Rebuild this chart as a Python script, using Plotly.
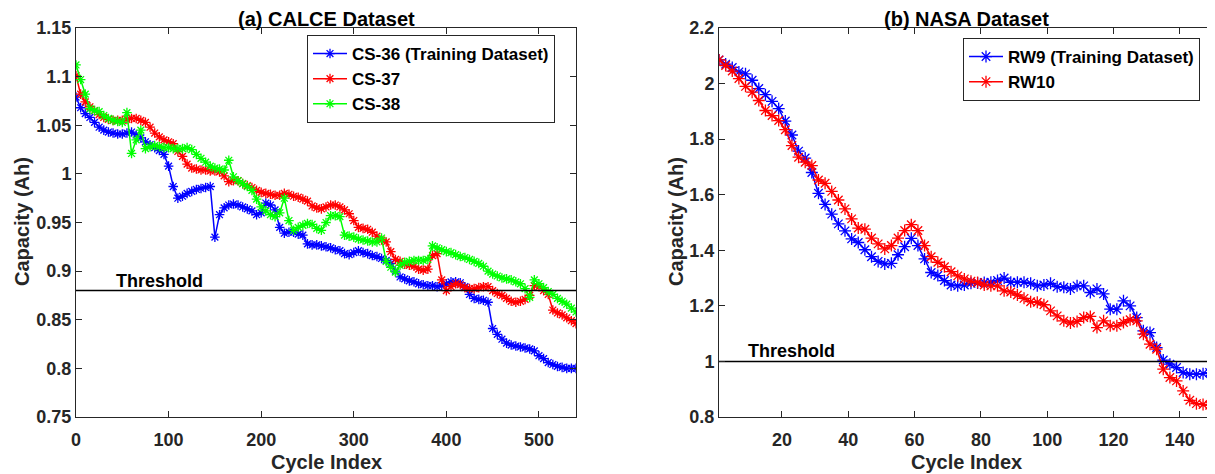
import plotly.graph_objects as go

# ---------------- data ----------------
calce_cycles = list(range(0, 541, 5))
cs36 = [1.079, 1.068, 1.062, 1.058, 1.053, 1.048, 1.045, 1.043, 1.042, 1.041,
        1.041, 1.042, 1.043, 1.040, 1.037, 1.033, 1.030, 1.027, 1.024, 1.020,
        1.008, 0.987, 0.975, 0.977, 0.980, 0.982, 0.984, 0.985, 0.986, 0.987,
        0.935, 0.958, 0.965, 0.968, 0.969, 0.968, 0.966, 0.964, 0.962, 0.958,
        0.960, 0.970, 0.968, 0.963, 0.945, 0.939, 0.940, 0.940, 0.938, 0.937,
        0.928, 0.927, 0.927, 0.926, 0.925, 0.924, 0.922, 0.921, 0.918, 0.917,
        0.919, 0.921, 0.919, 0.918, 0.916, 0.915, 0.913, 0.911, 0.908, 0.900,
        0.894, 0.892, 0.890, 0.889, 0.887, 0.886, 0.885, 0.885, 0.884, 0.885,
        0.887, 0.889, 0.889, 0.888, 0.884, 0.876, 0.872, 0.871, 0.870, 0.868,
        0.841, 0.835, 0.830, 0.826, 0.824, 0.823, 0.822, 0.821, 0.820, 0.818,
        0.813, 0.810, 0.806, 0.804, 0.802, 0.801, 0.800, 0.800, 0.800]
cs37 = [1.101, 1.082, 1.074, 1.069, 1.065, 1.061, 1.058, 1.056, 1.055, 1.055,
        1.055, 1.056, 1.057, 1.057, 1.055, 1.053, 1.048, 1.042, 1.038, 1.035,
        1.033, 1.031, 1.023, 1.018, 1.010, 1.006, 1.005, 1.004, 1.004, 1.003,
        1.003, 1.002, 0.998, 0.992, 0.993, 0.993, 0.990, 0.988, 0.986, 0.983,
        0.981, 0.980, 0.979, 0.978, 0.978, 0.980, 0.979, 0.977, 0.976, 0.974,
        0.972, 0.967, 0.965, 0.964, 0.966, 0.968, 0.968, 0.966, 0.963, 0.959,
        0.952, 0.945, 0.944, 0.943, 0.940, 0.936, 0.932, 0.930, 0.920, 0.912,
        0.910, 0.907, 0.906, 0.905, 0.902, 0.901, 0.902, 0.916, 0.918, 0.891,
        0.880, 0.884, 0.887, 0.886, 0.883, 0.882, 0.882, 0.883, 0.884, 0.884,
        0.880, 0.877, 0.875, 0.872, 0.869, 0.868, 0.869, 0.871, 0.875, 0.885,
        0.884, 0.880, 0.876, 0.860, 0.857, 0.855, 0.852, 0.849, 0.846]
cs38 = [1.112, 1.097, 1.082, 1.067, 1.065, 1.064, 1.060, 1.057, 1.055, 1.054,
        1.053, 1.063, 1.021, 1.035, 1.045, 1.026, 1.028, 1.029, 1.028, 1.027,
        1.027, 1.026, 1.026, 1.026, 1.027, 1.025, 1.020, 1.016, 1.012, 1.008,
        1.006, 1.005, 1.004, 1.014, 0.997, 0.993, 0.990, 0.987, 0.983, 0.974,
        0.966, 0.962, 0.958, 0.956, 0.960, 0.975, 0.952, 0.942, 0.945, 0.947,
        0.949, 0.948, 0.944, 0.942, 0.950, 0.957, 0.957, 0.956, 0.937, 0.936,
        0.935, 0.933, 0.932, 0.931, 0.930, 0.930, 0.934, 0.910, 0.904, 0.899,
        0.906, 0.909, 0.910, 0.911, 0.911, 0.911, 0.912, 0.926, 0.924, 0.922,
        0.920, 0.919, 0.917, 0.915, 0.914, 0.912, 0.910, 0.908, 0.905, 0.900,
        0.897, 0.895, 0.893, 0.892, 0.891, 0.889, 0.887, 0.882, 0.873, 0.891,
        0.887, 0.883, 0.879, 0.876, 0.872, 0.869, 0.866, 0.862, 0.858]

nasa_cycles = list(range(1, 150, 2)) + [150]
rw9 = [2.085, 2.070, 2.058, 2.042, 2.035, 2.012, 1.982, 1.960, 1.936, 1.910,
       1.865, 1.815, 1.757, 1.732, 1.680, 1.605, 1.565, 1.530, 1.495, 1.470,
       1.441, 1.428, 1.402, 1.377, 1.360, 1.351, 1.353, 1.384, 1.413, 1.443,
       1.417, 1.369, 1.320, 1.309, 1.291, 1.275, 1.272, 1.275, 1.281, 1.282,
       1.284, 1.285, 1.291, 1.300, 1.285, 1.285, 1.285, 1.281, 1.272, 1.275,
       1.281, 1.269, 1.267, 1.261, 1.272, 1.272, 1.248, 1.261, 1.243, 1.188,
       1.188, 1.218, 1.200, 1.158, 1.110, 1.104, 1.050, 1.005, 0.990, 0.978,
       0.960, 0.954, 0.954, 0.956, 0.960, 0.936]
rw10 = [2.085, 2.065, 2.045, 2.018, 1.990, 1.969, 1.939, 1.903, 1.885, 1.867,
        1.834, 1.777, 1.735, 1.717, 1.705, 1.653, 1.641, 1.612, 1.581, 1.549,
        1.513, 1.480, 1.476, 1.444, 1.423, 1.405, 1.417, 1.444, 1.471, 1.492,
        1.471, 1.417, 1.377, 1.357, 1.341, 1.323, 1.308, 1.297, 1.289, 1.284,
        1.275, 1.272, 1.272, 1.254, 1.250, 1.239, 1.227, 1.215, 1.213, 1.204,
        1.182, 1.164, 1.146, 1.138, 1.144, 1.158, 1.162, 1.122, 1.146, 1.128,
        1.128, 1.140, 1.150, 1.146, 1.098, 1.062, 1.044, 0.972, 0.942, 0.930,
        0.894, 0.860, 0.848, 0.845, 0.842, 0.840]

calce_threshold = 0.88
nasa_threshold = 1.0
calce_xrange = [0, 540]
nasa_xrange = [1, 150]

calce_xticks = [0, 100, 200, 300, 400, 500]
calce_yticks = [0.75, 0.8, 0.85, 0.9, 0.95, 1.0, 1.05, 1.1, 1.15]
calce_yticklabels = ["0.75", "0.8", "0.85", "0.9", "0.95", "1", "1.05", "1.1", "1.15"]
nasa_xticks = [20, 40, 60, 80, 100, 120, 140]
nasa_yticks = [0.8, 1.0, 1.2, 1.4, 1.6, 1.8, 2.0, 2.2]
nasa_yticklabels = ["0.8", "1", "1.2", "1.4", "1.6", "1.8", "2", "2.2"]

assert len(cs36) == len(calce_cycles) == len(cs37) == len(cs38)
assert len(rw9) == len(nasa_cycles) == len(rw10)

# ---------------- figure ----------------
OFF = 8                      # page body margin of the browser
W, H = 1215 - OFF, 474 - OFF
FONT = "Liberation Sans, Arial, sans-serif"
AX = "#262626"

def px_x(p):
    return (p - OFF) / W

def px_y(p):
    return 1 - (p - OFF) / H

fig = go.Figure()

def add_series(x, y, name, color, xa, ya, legend, size):
    fig.add_trace(go.Scatter(
        x=x, y=y, name=name, mode="lines+markers",
        line=dict(color=color, width=1.5),
        marker=dict(symbol="asterisk-open", size=size,
                    line=dict(color=color, width=1.3), color=color),
        xaxis=xa, yaxis=ya, legend=legend,
    ))

add_series(calce_cycles, cs36, "CS-36 (Training Dataset)", "#0000FF", "x", "y", "legend", 8)
add_series(calce_cycles, cs37, "CS-37", "#FF0000", "x", "y", "legend", 8)
add_series(calce_cycles, cs38, "CS-38", "#00FF00", "x", "y", "legend", 8)
add_series(nasa_cycles, rw9, "RW9 (Training Dataset)", "#0000FF", "x2", "y2", "legend2", 10)
add_series(nasa_cycles, rw10, "RW10", "#FF0000", "x2", "y2", "legend2", 10)

fig.add_trace(go.Scatter(x=calce_xrange, y=[calce_threshold] * 2, mode="lines",
                         line=dict(color="black", width=1.5), showlegend=False,
                         xaxis="x", yaxis="y", hoverinfo="skip"))
fig.add_trace(go.Scatter(x=nasa_xrange, y=[nasa_threshold] * 2, mode="lines",
                         line=dict(color="black", width=1.5), showlegend=False,
                         xaxis="x2", yaxis="y2", hoverinfo="skip"))

tickfont = dict(family=FONT, size=18, color=AX, weight="bold")
common_axis = dict(showline=True, linecolor=AX, linewidth=1, mirror="allticks",
                   ticks="inside", ticklen=6, tickcolor=AX, tickwidth=1,
                   showgrid=False, zeroline=False, tickfont=tickfont,
                   automargin=False)

ydom = [px_y(417), px_y(28)]
legfont = dict(family=FONT, size=17, color="black", weight="bold")
fig.update_layout(
    width=W, height=H,
    margin=dict(l=0, r=0, t=0, b=0, autoexpand=False),
    plot_bgcolor="white", paper_bgcolor="white",
    xaxis=dict(domain=[px_x(76), px_x(576)], range=calce_xrange,
               tickvals=calce_xticks, anchor="y", ticklabelstandoff=6,
               **common_axis),
    yaxis=dict(domain=ydom, range=[0.75, 1.15], tickvals=calce_yticks,
               ticktext=calce_yticklabels, anchor="x", **common_axis),
    xaxis2=dict(domain=[px_x(719), px_x(1213)], range=nasa_xrange,
                tickvals=nasa_xticks, anchor="y2", ticklabelstandoff=6,
                **common_axis),
    yaxis2=dict(domain=ydom, range=[0.8, 2.2], tickvals=nasa_yticks,
                ticktext=nasa_yticklabels, anchor="x2", **common_axis),
    legend=dict(x=px_x(307), y=px_y(35), xanchor="left", yanchor="top",
                bgcolor="white", bordercolor=AX, borderwidth=1,
                font=legfont, tracegroupgap=0, itemwidth=34),
    legend2=dict(x=px_x(963), y=px_y(38), xanchor="left", yanchor="top",
                 bgcolor="white", bordercolor=AX, borderwidth=1,
                 font=legfont, tracegroupgap=0, itemwidth=34),
    showlegend=True,
)

bold = lambda s: "<b>" + s + "</b>"
ann = []

def label(text, x, y, size, color, angle=0):
    ann.append(dict(text=bold(text), x=px_x(x), y=px_y(y), xref="paper", yref="paper",
                    xanchor="center", yanchor="middle", showarrow=False,
                    textangle=angle, font=dict(family=FONT, size=size, color=color)))

label("(a) CALCE Dataset", 326, 19, 20, "black")
label("(b) NASA Dataset", 966, 19, 20, "black")
label("Cycle Index", 326, 462, 20, AX)
label("Cycle Index", 966, 462, 20, AX)
label("Capacity (Ah)", 22, 222, 20, AX, -90)
label("Capacity (Ah)", 676, 222, 20, AX, -90)

# threshold labels
ann.append(dict(text=bold("Threshold"), x=90, y=calce_threshold, xref="x", yref="y",
                xanchor="center", yanchor="bottom", showarrow=False, yshift=-2,
                font=dict(family=FONT, size=18, color="black")))
ann.append(dict(text=bold("Threshold"), x=23, y=nasa_threshold, xref="x2", yref="y2",
                xanchor="center", yanchor="bottom", showarrow=False, yshift=-2,
                font=dict(family=FONT, size=18, color="black")))
fig.update_layout(annotations=ann)

fig.write_html("out.html")
